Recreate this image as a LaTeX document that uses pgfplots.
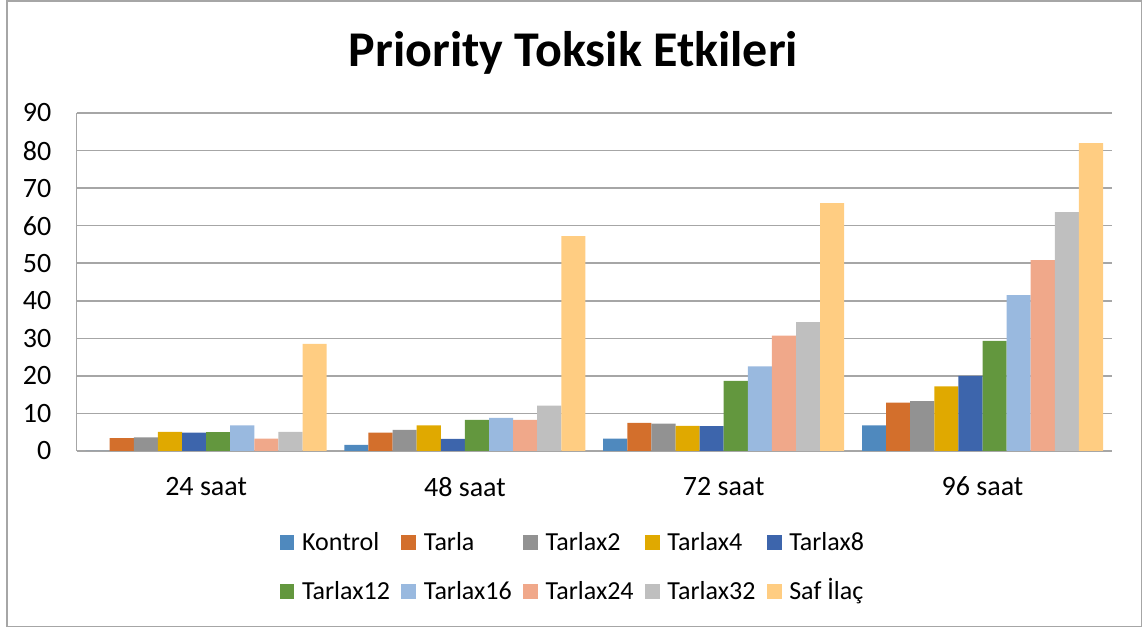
\documentclass[border=0pt]{standalone}
\usepackage{fontspec}
\setmainfont{Carlito}
\usepackage{pgfplots}
\usepackage{pgfplotstable}
\pgfplotsset{compat=1.18}

\definecolor{ckon}{RGB}{79,137,190}
\definecolor{ctar}{RGB}{211,111,44}
\definecolor{ctwo}{RGB}{146,146,146}
\definecolor{cfour}{RGB}{224,169,0}
\definecolor{ceight}{RGB}{61,101,172}
\definecolor{ctwelve}{RGB}{99,151,62}
\definecolor{csixteen}{RGB}{153,185,223}
\definecolor{ctwentyfour}{RGB}{240,168,138}
\definecolor{cthirtytwo}{RGB}{191,191,191}
\definecolor{csaf}{RGB}{255,205,130}
\definecolor{gridgray}{RGB}{166,166,166}

% 24, 48, 72, 96 saat
\pgfplotstableread{
x kon tar t2 t4 t8 t12 t16 t24 t32 saf
0 0   3.4  3.6  5.1  4.9  5.0  6.8  3.3  5.1  28.5
1 1.6 4.9  5.6  6.8  3.2  8.3  8.8  8.3  12.1 57.2
2 3.3 7.5  7.3  6.7  6.6  18.7 22.5 30.7 34.3 66.0
3 6.8 12.9 13.3 17.2 20.0 29.3 41.5 50.8 63.6 82.0
}\data

\newcommand\lgbox[1]{\makebox[49.7pt][l]{#1}}

\begin{document}
\begin{tikzpicture}
\useasboundingbox (0,0) rectangle (573.5pt,315pt);
\draw[gridgray, line width=0.9pt] (3.5pt,1.75pt) rectangle (570.75pt,314.4pt);
\node[anchor=base, font=\fontsize{25}{30}\selectfont\bfseries] at (286.75pt,281.65pt) {Priority Toksik Etkileri};
\begin{axis}[
    at={(38.35pt,89.5pt)}, anchor=south west,
    scale only axis, width=517.6pt, height=169pt,
    ybar=0pt, bar width=12.05pt,
    xmin=-0.5, xmax=3.5, ymin=0, ymax=90,
    xtick={0,1,2,3},
    xticklabels={24 saat,48 saat,72 saat,96 saat},
    ytick={0,10,...,90},
    ymajorgrids,
    grid style={gridgray, line width=0.75pt},
    axis x line*=bottom, axis y line*=left,
    axis line style={gridgray, line width=0.75pt, -},
    major tick length=0pt,
    tick label style={font=\fontsize{14}{16}\selectfont, black},
    yticklabel style={inner sep=0pt, xshift=-12.5pt},
    xticklabel style={inner sep=0pt, yshift=-12.85pt},
    /pgf/number format/assume math mode=true,
    legend columns=5,
    legend style={at={(0.1957,-0.2287)}, anchor=north west, draw=none, fill=none,
        inner sep=0pt, font=\fontsize{13}{15}\selectfont, row sep=10.35pt,
        nodes={inner sep=0pt, text height=11pt, text depth=3pt},
        /tikz/every odd column/.append style={column sep=3.85pt}},
    legend image code/.code={\fill[#1] (0pt,-3.675pt) rectangle (7.35pt,3.675pt);},
    legend entries={\lgbox{Kontrol},\lgbox{Tarla},\lgbox{Tarlax2},\lgbox{Tarlax4},\lgbox{Tarlax8},
        \lgbox{Tarlax12},\lgbox{Tarlax16},\lgbox{Tarlax24},\lgbox{Tarlax32},\lgbox{Saf İlaç}},
]
\addplot[fill=ckon, draw=none] table[x=x, y=kon] {\data};
\addplot[fill=ctar, draw=none] table[x=x, y=tar] {\data};
\addplot[fill=ctwo, draw=none] table[x=x, y=t2] {\data};
\addplot[fill=cfour, draw=none] table[x=x, y=t4] {\data};
\addplot[fill=ceight, draw=none] table[x=x, y=t8] {\data};
\addplot[fill=ctwelve, draw=none] table[x=x, y=t12] {\data};
\addplot[fill=csixteen, draw=none] table[x=x, y=t16] {\data};
\addplot[fill=ctwentyfour, draw=none] table[x=x, y=t24] {\data};
\addplot[fill=cthirtytwo, draw=none] table[x=x, y=t32] {\data};
\addplot[fill=csaf, draw=none] table[x=x, y=saf] {\data};
\end{axis}
\end{tikzpicture}
\end{document}
